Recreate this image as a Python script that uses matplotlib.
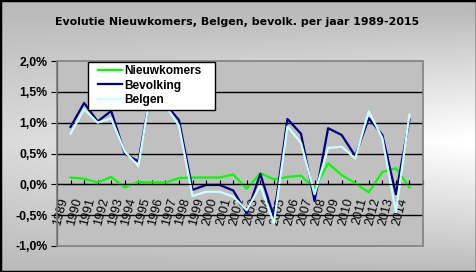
import numpy as np
import matplotlib
matplotlib.use("Agg")
import matplotlib.pyplot as plt
from matplotlib.patches import Rectangle

years = list(range(1989, 2015))
nieuwkomers = [0.11, 0.09, 0.03, 0.12, -0.05, 0.04, 0.03, 0.03, 0.10, 0.11, 0.11, 0.11, 0.16,
               -0.07, 0.18, 0.08, 0.12, 0.14, -0.07, 0.34, 0.15, 0.02, -0.13, 0.20, 0.26, -0.05]
bevolking = [0.93, 1.32, 1.02, 1.19, 0.50, 0.37, 1.60, 1.30, 1.04, -0.09, -0.01, -0.01, -0.10,
             -0.47, 0.17, -0.53, 1.06, 0.82, -0.27, 0.91, 0.80, 0.46, 1.07, 0.80, -0.16, 1.05]
belgen = [0.82, 1.22, 1.00, 1.07, 0.53, 0.30, 1.62, 1.28, 0.95, -0.19, -0.12, -0.12, -0.20,
          -0.42, -0.02, -0.63, 0.94, 0.67, -0.16, 0.59, 0.61, 0.42, 1.18, 0.75, -0.45, 1.13]
yticks = [-1.0, -0.5, 0.0, 0.5, 1.0, 1.5, 2.0]

W, H = 477, 272
fig = plt.figure(figsize=(W / 100, H / 100), dpi=100)

# background gradient (grey top/bottom, light in the middle, lighter to the right)
yy, xx = np.mgrid[0:H, 0:W]
t = yy / (H - 1)
vert = np.clip(1 - np.abs(t - 0.52) * 2.1, 0, 1) ** 0.9
horiz = xx / (W - 1)
val = (186 + vert * (32 + 40 * horiz)) / 255.0
bg = fig.add_axes([0, 0, 1, 1])
bg.imshow(np.dstack([val, val, val]), aspect="auto", extent=[0, 1, 0, 1])
bg.set_axis_off()
bg.add_patch(Rectangle((0, 0), 1, 1, transform=bg.transAxes, fill=False,
                       edgecolor="black", linewidth=2.5))

fig.text(0.497, 0.918, "Evolutie Nieuwkomers, Belgen, bevolk. per jaar 1989-2015",
         ha="center", va="center", fontsize=7.9, fontweight="bold", family="DejaVu Sans")

ax = fig.add_axes([57 / W, (H - 246) / H, 366 / W, 185 / H])
ax.set_facecolor("#c0c0c0")
x = np.arange(len(years))
ax.plot(x, nieuwkomers, color="#00ff00", lw=1.6, label="Nieuwkomers")
ax.plot(x, bevolking, color="#000080", lw=1.6, label="Bevolking")
ax.plot(x, belgen, color="#ccffff", lw=1.6, label="Belgen")

ax.set_xlim(-1, len(years))
ax.set_ylim(-1.0, 2.0)
ax.set_yticks(yticks)
ax.set_yticklabels([f"{v:.1f}%".replace(".", ",") for v in yticks],
                   fontsize=8.8, fontweight="bold", family="Liberation Sans")
for v in yticks[1:-1]:
    ax.axhline(v, color="black", lw=1, zorder=0.5)

ax.spines["bottom"].set_position(("data", 0))
ax.spines["bottom"].set_color("black")
ax.spines["left"].set_color("black")
for s in ["top", "right"]:
    ax.spines[s].set_visible(False)
ax.add_patch(Rectangle((0, 0), 1, 1, transform=ax.transAxes, fill=False,
                       edgecolor="#808080", linewidth=1.2, clip_on=False, zorder=3))

ax.set_xticks(np.arange(-1, len(years) + 1))
ax.set_xticklabels([""] + [str(y) for y in years] + [""], rotation=75,
                   ha="right", va="top", fontsize=9, family="Liberation Sans")
ax.tick_params(axis="x", direction="in", length=3, pad=9, color="black")
ax.tick_params(axis="y", direction="out", length=4, pad=3, color="black")

# legend box (Excel style: white, black border)
ax.add_patch(Rectangle((0.085, 0.735), 0.347, 0.26, transform=ax.transAxes,
                       facecolor="white", edgecolor="black", linewidth=1, zorder=4))
leg = ax.legend(loc="upper left", bbox_to_anchor=(0.105, 0.99), borderaxespad=0,
                frameon=False, handlelength=2.0, handletextpad=0.25, labelspacing=0.2,
                borderpad=0.2,
                prop={"family": "Liberation Sans", "weight": "bold", "size": 8.6})
leg.set_zorder(5)

fig.savefig("out.png", dpi=100)
